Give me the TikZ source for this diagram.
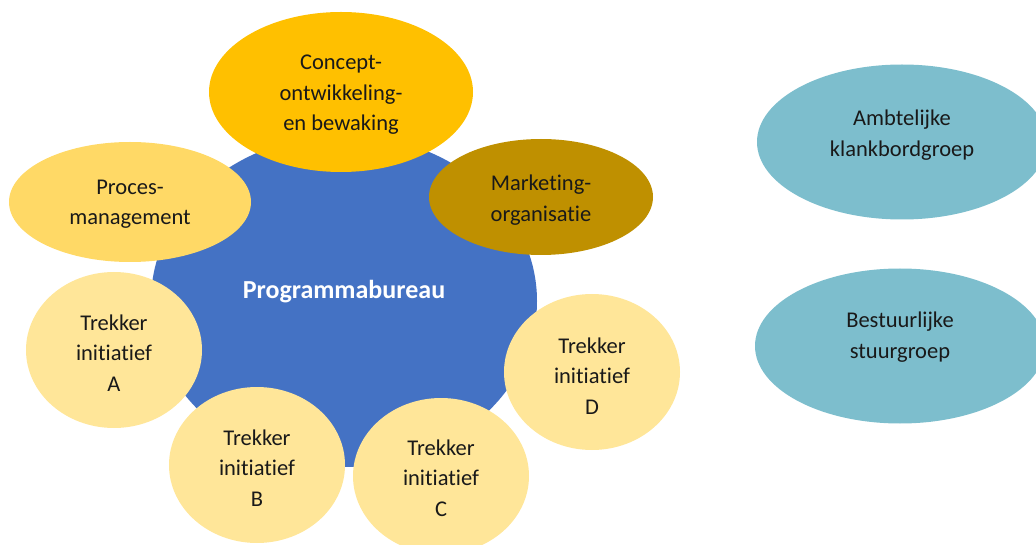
\documentclass[tikz,border=0pt]{standalone}
\usepackage{fontspec}
\setmainfont{Carlito}[Ligatures=NoCommon]
\usetikzlibrary{shapes.geometric}

\definecolor{bureaublue}{RGB}{68,114,196}
\definecolor{goldmain}{RGB}{255,192,0}
\definecolor{goldlight}{RGB}{255,217,102}
\definecolor{golddark}{RGB}{191,144,0}
\definecolor{goldpale}{RGB}{255,230,153}
\definecolor{aquagroup}{RGB}{125,190,205}

\begin{document}
\begin{tikzpicture}[x=1pt,y=-1pt]
\tikzset{blobtext/.style={align=center,text=black!90,font=\fontsize{22.5}{30.5}\selectfont}}
\tikzset{blob/.style={ellipse,inner sep=0pt}}
\tikzset{trekker/.style={blob,fill=goldpale,minimum width=176,minimum height=156}}
\tikzset{group/.style={blob,fill=aquagroup,minimum width=290,minimum height=155}}
\clip (0,0) rectangle (1036,545);
% centre
\node[blob,fill=bureaublue,minimum width=386,minimum height=332,
  label={[text=white,font=\fontsize{26}{30}\selectfont\bfseries,yshift=9pt]center:Programmabureau}] (bureau) at (344,301) {};
% ring
\node[blob,fill=goldmain,minimum width=264,minimum height=160,
  label={[blobtext,yshift=-3pt]center:Concept-\\ontwikkeling-\\en bewaking}] (concept) at (341,92) {};
\node[blob,fill=goldlight,minimum width=242,minimum height=120,
  label={[blobtext,yshift=-2pt]center:Proces-\\management}] (proces) at (130,202) {};
\node[blob,fill=golddark,minimum width=224,minimum height=116,
  label={[blobtext,yshift=-3pt]center:Marketing-\\organisatie}] (marketing) at (541,197) {};
\node[trekker,label={[blobtext,yshift=-3pt]center:Trekker\\initiatief\\A}] (trekA) at (114,350) {};
\node[trekker,label={[blobtext,yshift=-3pt]center:Trekker\\initiatief\\B}] (trekB) at (257,465) {};
\node[trekker,label={[blobtext,yshift=-2pt]center:Trekker\\initiatief\\C}] (trekC) at (441,476) {};
\node[trekker,label={[blobtext,yshift=-4pt]center:Trekker\\initiatief\\D}] (trekD) at (592,372) {};
% groups
\node[group,label={[blobtext,yshift=7pt]center:Ambtelijke\\klankbordgroep}] (ambtelijk) at (902,142) {};
\node[group,label={[blobtext,yshift=9pt]center:Bestuurlijke\\stuurgroep}] (bestuurlijk) at (900,346) {};
\end{tikzpicture}
\end{document}
